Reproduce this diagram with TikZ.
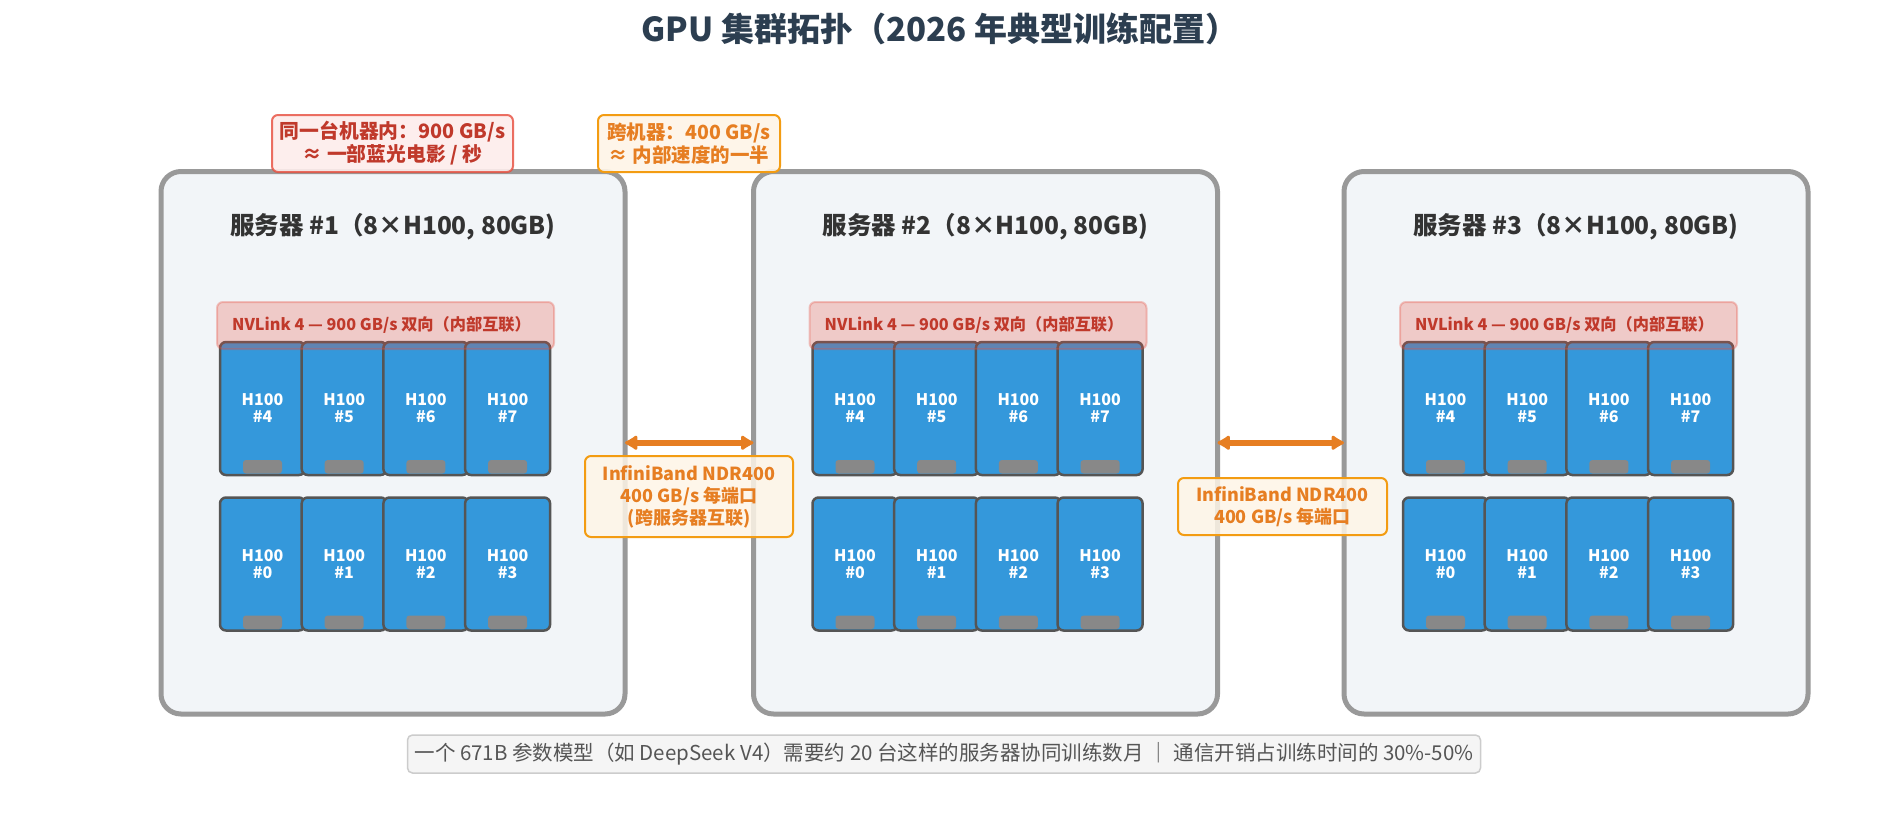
\documentclass[tikz,border=0pt]{standalone}
\usepackage{fontspec}
\setmainfont{Noto Sans CJK SC}
\usetikzlibrary{arrows.meta}
\definecolor{titlec}{HTML}{2C3E50}
\definecolor{srvgray}{HTML}{999999}
\definecolor{srvfill}{HTML}{F2F5F8}
\definecolor{srvtext}{HTML}{333333}
\definecolor{gpublue}{HTML}{3498DB}
\definecolor{cardgray}{HTML}{555555}
\definecolor{padgray}{HTML}{888888}
\definecolor{nvred}{HTML}{E74C3C}
\definecolor{redtext}{HTML}{C0392B}
\definecolor{redfill}{HTML}{FDEDEC}
\definecolor{ibor}{HTML}{E67E22}
\definecolor{ibborder}{HTML}{F39C12}
\definecolor{ibfill}{HTML}{FEF5E7}
\definecolor{notefill}{HTML}{F5F5F5}
\definecolor{noteborder}{HTML}{CCCCCC}
\definecolor{notetext}{HTML}{555555}
\begin{document}
\begin{tikzpicture}[x=1pt,y=-1pt,
  server/.style={draw=srvgray, line width=5pt, fill=srvfill, rounded corners=20pt,
    minimum width=464pt, minimum height=542.5pt, inner sep=0pt, outer sep=0pt},
  srvtitle/.style={text=srvtext, font=\bfseries\fontsize{24.5}{28}\selectfont},
  card/.style={draw=cardgray, line width=2.5pt, fill=gpublue, rounded corners=6pt,
    minimum width=85pt, minimum height=133pt, inner sep=0pt, outer sep=0pt,
    text=white, align=center, font=\bfseries\fontsize{16}{17}\selectfont},
  pad/.style={fill=padgray, rounded corners=3pt},
  nvbar/.style={fill=nvred, fill opacity=0.25, draw=nvred, draw opacity=0.3, line width=2pt,
    rounded corners=6pt, minimum width=337pt, minimum height=47pt, inner sep=0pt},
  nvtext/.style={text=redtext, anchor=west, inner sep=0pt, font=\bfseries\fontsize{16.2}{18}\selectfont},
  ibarrow/.style={draw=ibor, line width=6pt,
    {Latex[length=15pt,width=18pt,round]}-{Latex[length=15pt,width=18pt,round]}},
  iblabel/.style={fill=ibfill, fill opacity=0.85, text opacity=1, draw=ibborder, line width=2pt,
    rounded corners=6pt, text=ibor, align=center, inner sep=0pt,
    font=\bfseries\fontsize{18}{22}\selectfont},
  redlabel/.style={fill=redfill, fill opacity=0.9, text opacity=1, draw=nvred, draw opacity=0.8,
    line width=2pt, rounded corners=6pt, text=redtext, align=center, inner sep=0pt,
    minimum height=57pt, font=\bfseries\fontsize{19.8}{23}\selectfont},
  orlabel/.style={fill=ibfill, fill opacity=0.9, text opacity=1, draw=ibborder,
    line width=2pt, rounded corners=6pt, text=ibor, align=center, inner sep=0pt,
    minimum height=57pt, font=\bfseries\fontsize{19.5}{23}\selectfont},
  notebox/.style={fill=notefill, draw=noteborder, line width=1.5pt, rounded corners=5pt,
    minimum width=1073pt, minimum height=38pt, inner sep=0pt, text=notetext,
    font=\fontsize{20.5}{24}\selectfont}
]
\useasboundingbox (0,0) rectangle (1890,839);
\fill[white] (0,0) rectangle (1890,839);

\node[text=titlec, font=\bfseries\fontsize{33}{38}\selectfont] (title) at (940,29)
  {GPU 集群拓扑（2026 年典型训练配置）};

\foreach \i/\L in {1/160.5,2/753,3/1343.5}{
  \node[server] (s\i) at ({\L+232.5},442.75) {};
  \node[srvtitle] (s\i t) at ({\L+232.5},227) {服务器 \#\i（8×H100, 80GB)};
  \foreach \j in {0,1,2,3}{
    \pgfmathtruncatemacro\k{\j+4}
    \pgfmathsetmacro\cx{\L+59.5+81.7*\j+42.5}
    \node[card] (s\i g\k) at (\cx,408.5) {H100\\\#\k};
    \fill[pad] ([xshift=-19.5pt,yshift=1.5pt]s\i g\k.south) rectangle ([xshift=19.5pt,yshift=15pt]s\i g\k.south);
    \node[card] (s\i g\j) at (\cx,564) {H100\\\#\j};
    \fill[pad] ([xshift=-19.5pt,yshift=1.5pt]s\i g\j.south) rectangle ([xshift=19.5pt,yshift=15pt]s\i g\j.south);
  }
  \node[nvbar] (s\i nv) at ({\L+59.5+165.5},325.5) {};
  \node[nvtext] (s\i nvt) at ({\L+59.5+12},325) {NVLink 4 — 900 GB/s 双向（内部互联）};
}

\draw[ibarrow] (s1.east) -- (s2.west);
\draw[ibarrow] (s2.east) -- (s3.west);

\node[iblabel, minimum width=208pt, minimum height=81pt] (ib1) at (689,496.5)
  {InfiniBand NDR400\\400 GB/s 每端口\\(跨服务器互联)};
\node[iblabel, minimum width=209pt, minimum height=57pt] (ib2) at (1282.5,506.5)
  {InfiniBand NDR400\\400 GB/s 每端口};

\node[redlabel, minimum width=241pt] (lbl1) at (392.5,143.5)
  {同一台机器内：900 GB/s\\≈ 一部蓝光电影 / 秒};
\node[orlabel, minimum width=182pt] (lbl2) at (689,143.5)
  {跨机器：400 GB/s\\≈ 内部速度的一半};

\node[notebox] (note) at (944,754)
  {一个 671B 参数模型（如 DeepSeek V4）需要约 20 台这样的服务器协同训练数月 ｜ 通信开销占训练时间的 30\%-50\%};
\end{tikzpicture}
\end{document}
